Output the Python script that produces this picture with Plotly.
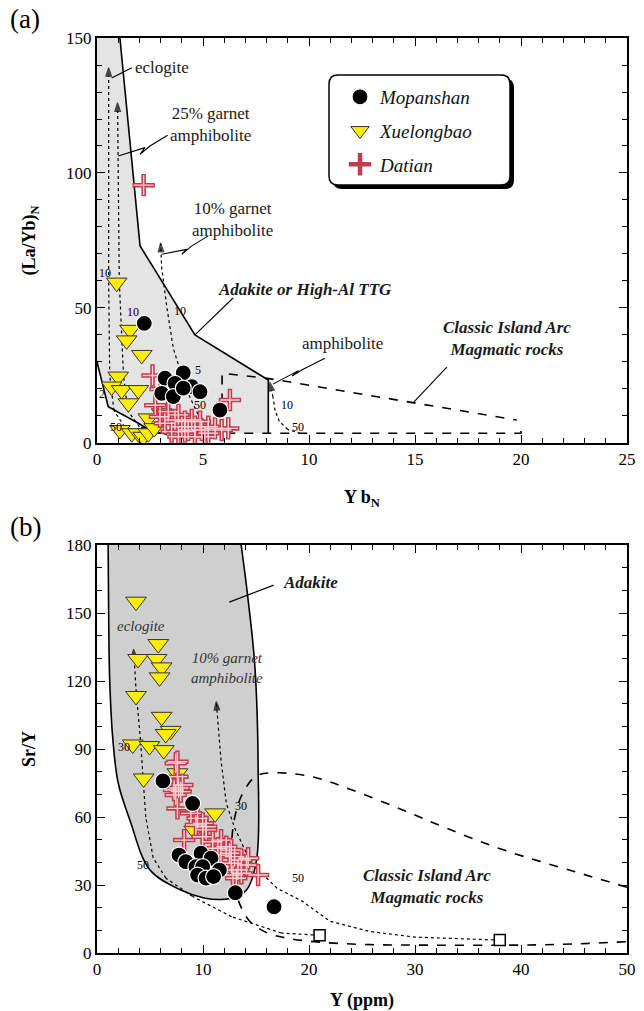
import plotly.graph_objects as go

# ---------------- Panel (a): (La/Yb)N vs YbN ----------------
mop_a_yb = [2.23, 4.07, 3.21, 3.68, 4.47, 4.86, 3.05, 3.60, 4.07, 5.80]
mop_a_lay = [44.3, 26.0, 24.0, 22.1, 20.9, 19.0, 18.4, 17.2, 20.3, 12.2]

xue_a_yb = [0.93, 1.56, 1.40, 2.11, 1.00, 0.69, 1.16, 1.95, 1.48, 2.42, 3.05,
            1.08, 1.64, 1.95, 2.18, 2.42, 2.70]
xue_a_lay = [59.4, 41.9, 38.0, 32.6, 24.6, 20.9, 19.6, 19.6, 14.7, 9.1, 11.0,
             4.8, 3.6, 3.6, 2.3, 3.6, 5.5]

dat_a_yb = [2.20, 2.62, 6.27, 2.97, 3.20, 3.68, 4.00, 4.30, 4.62, 4.94, 5.25, 5.57,
            5.88, 6.19, 3.84, 3.52, 4.15, 4.62, 5.09, 3.84, 3.36, 4.47, 4.86, 5.25,
            4.15, 3.00, 2.75]
dat_a_lay = [95.5, 25.0, 15.9, 9.7, 7.3, 8.5, 6.0, 4.8, 6.0, 4.8, 6.0, 5.4,
             4.8, 5.4, 2.3, 4.2, 7.9, 2.3, 2.3, 10.4, 11.6, 8.5, 7.9, 3.6,
             4.2, 20.0, 14.0]

# field boundaries (a)
adk_a_x = [0, 1.08, 2.03, 4.62, 8.08, 8.08, 2.7, 1.95, 0.53, 0]
adk_a_y = [150, 150, 73, 40, 23.3, 3.7, 3.7, 7.3, 13.4, 30]
adk_a_right_x = [1.08, 2.03, 4.62, 8.08, 8.08]
adk_a_right_y = [150, 73, 40, 23.3, 3.7]
adk_a_left_x = [0, 0.53, 1.95, 2.7]
adk_a_left_y = [30, 13.4, 7.3, 3.7]
arc_a_top_x = [5.9, 5.9, 8.0, 19.8]
arc_a_top_y = [15, 25.8, 24.0, 8.5]
arc_a_bot_x = [2.7, 20, 20]
arc_a_bot_y = [3.6, 3.6, 5.2]

# melting curves (a)
ecl_a_x = [2.2, 1.3, 0.8, 0.6, 0.55, 0.55]
ecl_a_y = [3, 6, 12, 25, 60, 139]
g25_a_x = [3.3, 2.0, 1.45, 1.25, 1.05, 0.97]
g25_a_y = [3, 6, 12, 25, 60, 126]
g10_a_x = [5.5, 4.8, 4.2, 3.6, 3.3, 3.05, 3.0]
g10_a_y = [4, 10, 20, 35, 50, 65, 74]
amp_a_x = [9.6, 9.0, 8.6, 8.4, 8.3, 8.15]
amp_a_y = [3.5, 5, 8, 12, 17, 22.5]

# ---------------- Panel (b): Sr/Y vs Y ----------------
mop_b_y = [6.22, 9.02, 7.74, 8.38, 9.81, 10.76, 9.33, 9.97, 11.55, 9.49, 10.29, 11.0, 13.05, 16.7]
mop_b_sry = [75.9, 66.0, 43.2, 40.3, 44.0, 41.8, 38.1, 38.1, 36.6, 34.4, 33.0, 33.7, 26.6, 20.4]

xue_b_y = [3.68, 5.78, 3.87, 5.62, 6.10, 5.90, 3.68, 6.10, 6.95, 6.48, 3.37, 4.95, 6.30,
           4.40, 11.14, 9.17, 7.59]
xue_b_sry = [155.0, 136.3, 129.7, 129.7, 126.0, 121.6, 113.4, 104.2, 98.0, 96.6, 92.0,
             91.3, 89.5, 77.0, 61.6, 54.0, 79.3]

dat_b_y = [7.59, 7.70, 7.43, 7.90, 8.06, 9.49, 9.97, 9.33, 10.29, 9.97, 8.22, 10.92,
           11.71, 12.19, 12.67, 12.98, 12.67, 13.62, 13.30, 14.10, 12.83, 15.20, 12.50,
           13.62, 11.40, 14.26, 8.86, 10.29, 11.70, 13.14, 7.43, 7.59, 7.27, 7.59]
dat_b_sry = [84.4, 72.8, 69.7, 71.2, 74.1, 59.4, 57.2, 56.5, 54.3, 51.3, 49.8, 49.1,
             49.8, 46.9, 45.4, 42.5, 39.6, 41.0, 36.6, 38.8, 34.4, 34.4, 44.0,
             35.2, 46.2, 41.8, 61.6, 55.7, 43.2, 33.0, 83.7, 77.8, 71.9, 63.8]

adk_b_x = [1.05, 1.1, 1.2, 1.5, 2.0, 3.1, 5.0, 7.9, 10.1, 11.7, 12.7, 14.1, 15.05, 15.2,
           14.9, 14.26, 13.6]
adk_b_y = [180, 150, 120, 94, 75, 58.7, 36.6, 27.8, 24.3, 23.6, 24.3, 27.8, 41, 82,
           126, 155.7, 180]
arc_b_x = [50, 45, 38.4, 33, 28.9, 24, 20.5, 17, 15, 13.7, 13, 12.7, 12.8, 13.2, 14.3,
           16, 18, 21, 25, 30, 40, 45, 50]
arc_b_y = [29, 36, 45.4, 55, 63, 72, 77.5, 79.5, 78, 70, 60, 48, 35, 25, 14.6,
           9, 6.5, 4.8, 3.8, 3.5, 3.5, 4.0, 5.0]
ecl_b_x = [21, 17.4, 12.7, 9, 6.5, 5.3, 4.6, 4.4, 4.1, 3.7, 3.45]
ecl_b_y = [7.8, 8.8, 16, 25, 33, 42, 60, 75, 94, 115, 134]
g10_b_x = [38, 30, 25.7, 22, 19.3, 17.0, 14.5, 13.0, 12.2, 11.7, 11.25]
g10_b_y = [5.7, 7, 9.5, 14, 23, 28.5, 40, 55, 66, 85, 111]
sq_b_x = [21, 38]
sq_b_y = [7.8, 5.7]

SERIF = "Liberation Serif, Times New Roman, DejaVu Serif, serif"
RED = "#c43c4c"
PINK = "#f6d2d6"

fig = go.Figure()


def curve(x, y, xa, ya, dash="dot", width=1.2, arrow=False):
    n = len(x)
    mk = None
    mode = "lines"
    if arrow:
        mode = "lines+markers"
        mk = dict(symbol="arrow", size=[0] * (n - 1) + [9], angleref="previous",
                  color="black", line=dict(width=1.2, color="black"))
    fig.add_trace(go.Scatter(x=x, y=y, xaxis=xa, yaxis=ya, mode=mode,
                             line=dict(color="black", width=width, dash=dash),
                             marker=mk, showlegend=False, hoverinfo="skip"))


# ---- panel (a) fields ----
fig.add_trace(go.Scatter(x=adk_a_x, y=adk_a_y, xaxis="x", yaxis="y", fill="toself",
                         fillcolor="#e4e4e4", line=dict(width=0), mode="lines",
                         showlegend=False, hoverinfo="skip"))
curve(adk_a_right_x, adk_a_right_y, "x", "y", dash="solid", width=1.6)
curve(adk_a_left_x, adk_a_left_y, "x", "y", dash="solid", width=1.6)
curve(arc_a_top_x, arc_a_top_y, "x", "y", dash="dash", width=1.6)
curve(arc_a_bot_x, arc_a_bot_y, "x", "y", dash="dash", width=1.6)
curve(ecl_a_x, ecl_a_y, "x", "y", arrow=True)
curve(g25_a_x, g25_a_y, "x", "y", arrow=True)
curve(g10_a_x, g10_a_y, "x", "y", arrow=True)
curve(amp_a_x, amp_a_y, "x", "y", arrow=True)

# leaders (a)
leaders_a = [
    ([1.64, 0.69], [139, 135.2]),
    ([3.33, 2.5, 2.03, 2.26, 1.0], [114, 110, 106.9, 109.4, 106.3]),
    ([5.25, 4.47, 4.0, 4.23, 3.05], [76.7, 73, 69.9, 71.7, 69.9]),
    ([6.42, 4.62], [53.7, 40]),
    ([10.75, 9.7, 9.2, 9.5, 8.3], [31.4, 27.2, 24.8, 26.8, 21.8]),
    ([16.5, 14.9], [28.1, 14.8]),
]
for lx_, ly_ in leaders_a:
    curve(lx_, ly_, "x", "y", dash="solid", width=1.1)

# ---- panel (b) fields ----
fig.add_trace(go.Scatter(x=adk_b_x, y=adk_b_y, xaxis="x2", yaxis="y2", fill="toself",
                         fillcolor="#cfcfcf", line=dict(color="black", width=1.6),
                         mode="lines", line_shape="spline", showlegend=False,
                         hoverinfo="skip"))
fig.add_trace(go.Scatter(x=arc_b_x, y=arc_b_y, xaxis="x2", yaxis="y2", mode="lines",
                         line=dict(color="black", width=1.6, dash="dash"),
                         line_shape="spline", showlegend=False, hoverinfo="skip"))
curve(ecl_b_x, ecl_b_y, "x2", "y2", arrow=True)
curve(g10_b_x, g10_b_y, "x2", "y2", arrow=True)
fig.add_trace(go.Scatter(x=sq_b_x, y=sq_b_y, xaxis="x2", yaxis="y2", mode="markers",
                         marker=dict(symbol="square", size=11, color="white",
                                     line=dict(color="black", width=1.5)),
                         showlegend=False, hoverinfo="skip"))
curve([16.67, 12.48], [162.3, 154.8], "x2", "y2", dash="solid", width=1.1)

# ---- data markers ----
tri = dict(symbol="triangle-down", size=18, color="#ffee00",
           line=dict(color="#333333", width=1))
crs_out = dict(symbol="cross-thin", size=16, color=RED, line=dict(color=RED, width=4.5))
crs_in = dict(symbol="cross-thin", size=14, color=PINK, line=dict(color=PINK, width=1.4))
cir = dict(symbol="circle", size=16, color="black", line=dict(color="white", width=1.2))


def markers(x, y, xa, ya, show):
    fig.add_trace(go.Scatter(x=x[0], y=x[1], xaxis=xa, yaxis=ya, mode="markers",
                             marker=tri, name="Xuelongbao", legendgroup="g2", legendrank=2,
                             showlegend=show))
    fig.add_trace(go.Scatter(x=y[0], y=y[1], xaxis=xa, yaxis=ya, mode="markers",
                             marker=crs_out, name="Datian", legendgroup="g3", legendrank=3,
                             showlegend=show))
    fig.add_trace(go.Scatter(x=y[0], y=y[1], xaxis=xa, yaxis=ya, mode="markers",
                             marker=crs_in, name="Datian", legendgroup="g3",
                             showlegend=False, hoverinfo="skip"))


markers((xue_a_yb, xue_a_lay), (dat_a_yb, dat_a_lay), "x", "y", True)
fig.add_trace(go.Scatter(x=mop_a_yb, y=mop_a_lay, xaxis="x", yaxis="y", mode="markers",
                         marker=cir, name="Mopanshan", legendgroup="g1", legendrank=1))
markers((xue_b_y, xue_b_sry), (dat_b_y, dat_b_sry), "x2", "y2", False)
fig.add_trace(go.Scatter(x=mop_b_y, y=mop_b_sry, xaxis="x2", yaxis="y2", mode="markers",
                         marker=cir, name="Mopanshan", legendgroup="g1", showlegend=False))

# ---- annotations ----
ann = []


def txt(x, y, t, xr="x", yr="y", size=17, xa="left", italic=False, bold=False, color="#1a1a1a"):
    if italic:
        t = "<i>" + t + "</i>"
    if bold:
        t = "<b>" + t + "</b>"
    ann.append(dict(x=x, y=y, xref=xr, yref=yr, text=t, showarrow=False, xanchor=xa,
                    yanchor="middle", font=dict(family=SERIF, size=size, color=color)))


txt(1.70, 138.9, "eclogite")
txt(3.35, 118, "25% garnet<br>amphibolite")
txt(4.39, 82.8, "10% garnet<br>amphibolite")
txt(9.81, 56.7, "Adakite or High-Al TTG", xa="center", italic=True, bold=True)
txt(11.56, 37.0, "amphibolite", xa="center")
txt(19.34, 38.7, "Classic Island Arc<br>Magmatic rocks", xa="center", italic=True, bold=True)
for x, y, t in [(0.38, 63, "10"), (1.7, 48.5, "10"), (3.9, 49, "10"), (4.75, 27, "5"),
                (4.85, 14, "50"), (8.95, 14, "10"), (9.5, 6, "50"), (0.25, 18, "2"),
                (0.9, 6, "50")]:
    txt(x, y, t, size=12, xa="center", color="#000000")

txt(17.4, 163.6, "Adakite", xr="x2", yr="y2", italic=True, bold=True)
txt(1.71, 144.2, "eclogite", xr="x2", yr="y2", size=15, italic=True, color="#333333")
txt(8.67, 125.7, "10% garnet<br>amphibolite", xr="x2", yr="y2", size=15, italic=True,
    color="#333333")
txt(31.1, 29.5, "Classic Island Arc<br>Magmatic rocks", xr="x2", yr="y2", xa="center",
    italic=True, bold=True)
for x, y, t in [(2.5, 91, "30"), (4.3, 39, "50"), (13.6, 65, "30"), (19.0, 33, "50")]:
    txt(x, y, t, xr="x2", yr="y2", size=12, xa="center", color="#000000")

ann.append(dict(x=-0.168, y=1.021, xref="paper", yref="paper", text="(a)", showarrow=False,
                xanchor="left", yanchor="middle", font=dict(family=SERIF, size=27, color="black")))
ann.append(dict(x=-0.168, y=0.466, xref="paper", yref="paper", text="(b)", showarrow=False,
                xanchor="left", yanchor="middle", font=dict(family=SERIF, size=27, color="black")))


# ---- legend box (rounded with shadow) ----
def px2paper(px, py):
    return (px - 97) / 530.0, (953 - py) / 915.0


def rrect(x0p, y0p, x1p, y1p, r=9):
    x0, y1 = px2paper(x0p, y0p)
    x1, y0 = px2paper(x1p, y1p)
    rx, ry = r / 530.0, r / 915.0
    return (f"M {x0+rx},{y0} L {x1-rx},{y0} Q {x1},{y0} {x1},{y0+ry} L {x1},{y1-ry} "
            f"Q {x1},{y1} {x1-rx},{y1} L {x0+rx},{y1} Q {x0},{y1} {x0},{y1-ry} "
            f"L {x0},{y0+ry} Q {x0},{y0} {x0+rx},{y0} Z")


shapes = [
    dict(type="path", xref="paper", yref="paper", path=rrect(333, 79, 514, 189),
         fillcolor="black", line=dict(width=0), layer="above"),
    dict(type="path", xref="paper", yref="paper", path=rrect(329, 75, 510, 185),
         fillcolor="white", line=dict(color="black", width=1.5), layer="above"),
]

axis_common = dict(showline=True, linecolor="black", linewidth=2, mirror="allticks",
                   ticks="inside", ticklen=8, tickwidth=1.3, tickcolor="black",
                   showgrid=False, zeroline=False, automargin=False,
                   tickfont=dict(family=SERIF, size=17, color="black"))

lx, ly = px2paper(340, 78)
fig.update_layout(
    width=644, height=1011,
    margin=dict(l=97, r=17, t=38, b=58),
    paper_bgcolor="white", plot_bgcolor="white",
    font=dict(family=SERIF, color="black"),
    xaxis=dict(axis_common, domain=[0, 1], range=[0, 25], dtick=5, anchor="y",
               minor=dict(dtick=1, ticklen=5, ticks="inside", tickcolor="black"),
               title=dict(text="<b>Y b<sub>N</sub></b>", standoff=22,
                          font=dict(family=SERIF, size=18))),
    yaxis=dict(axis_common, domain=[0.5574, 1], range=[0, 150], dtick=50, anchor="x",
               minor=dict(dtick=10, ticklen=5, ticks="inside", tickcolor="black"),
               title=dict(text="<b>(La/Yb)<sub>N</sub></b>", standoff=26,
                          font=dict(family=SERIF, size=18))),
    xaxis2=dict(axis_common, domain=[0, 1], range=[0, 50], dtick=10, anchor="y2",
                minor=dict(dtick=2, ticklen=5, ticks="inside", tickcolor="black"),
                title=dict(text="<b>Y (ppm)</b>", standoff=30,
                           font=dict(family=SERIF, size=18))),
    yaxis2=dict(axis_common, domain=[0, 0.4459], range=[0, 180], dtick=30, anchor="x2",
                minor=dict(dtick=10, ticklen=5, ticks="inside", tickcolor="black"),
                title=dict(text="<b>Sr/Y</b>", standoff=26,
                           font=dict(family=SERIF, size=18))),
    legend=dict(x=lx, y=ly, xanchor="left", yanchor="top", bgcolor="rgba(0,0,0,0)",
                borderwidth=0, traceorder="grouped", tracegroupgap=6,
                font=dict(family=SERIF, size=19, style="italic", color="#111111")),
    annotations=ann,
    shapes=shapes,
)

fig.write_html("out.html")
